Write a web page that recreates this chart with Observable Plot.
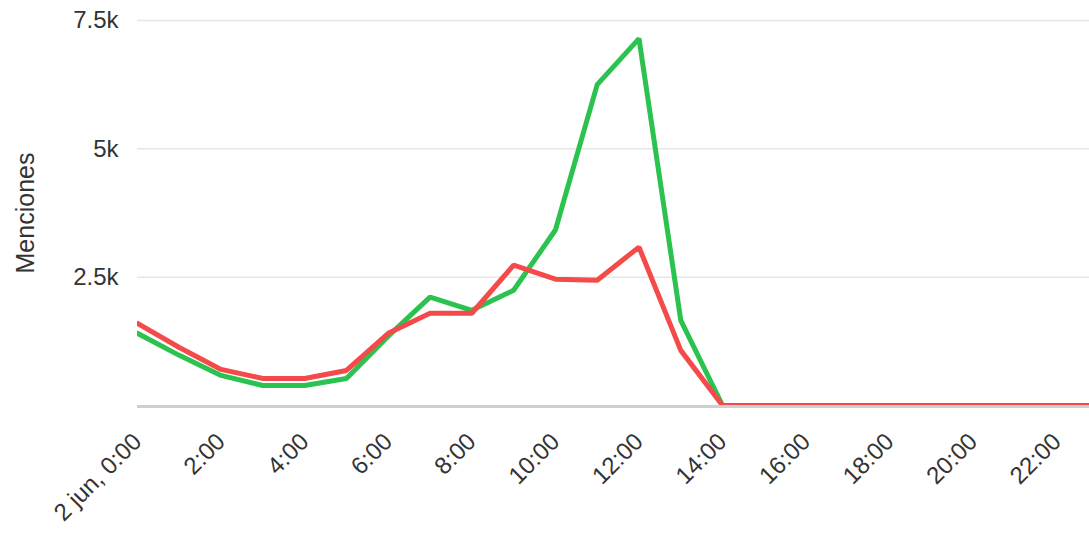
<!DOCTYPE html>
<html>
<head>
<meta charset="utf-8">
<script src="https://cdn.jsdelivr.net/npm/d3@7"></script>
<script src="https://cdn.jsdelivr.net/npm/@observablehq/plot@0.6"></script>
<style>
  html, body { margin: 0; padding: 0; background: #fff; }
  #chart svg { display: block; }
</style>
</head>
<body>
<div id="chart"></div>
<script>
const hours = [0,1,2,3,4,5,6,7,8,9,10,11,12,13,14,15,16,17,18,19,20,21,22,23];
const greenValues = [1406,977,586,390,390,527,1350,2110,1855,2246,3418,6250,7148,1660,0,0,0,0,0,0,0,0,0,0];
const redValues   = [1600,1130,703,527,527,683,1406,1797,1797,2734,2460,2441,3086,1074,0,0,0,0,0,0,0,0,0,0];
const xTicks = [0,2,4,6,8,10,12,14,16,18,20,22];
const yTicks = [2500,5000,7500];
const seriesNames = ["Verde","Rojo"];

const rows = [];
hours.forEach((h,i) => {
  rows.push({hour: h, value: greenValues[i], serie: seriesNames[0]});
});
hours.forEach((h,i) => {
  rows.push({hour: h, value: redValues[i], serie: seriesNames[1]});
});

const chart = Plot.plot({
  width: 1089,
  height: 540,
  marginLeft: 137,
  marginRight: 0,
  marginTop: 20,
  marginBottom: 135,
  style: {fontFamily: "'Liberation Sans', Arial, sans-serif", fontSize: "24px", color: "#333", background: "#fff"},
  x: {domain: [0, 22.78], type: "linear"},
  y: {domain: [0, 7500]},
  color: {domain: seriesNames, range: ["#2bc24f", "#f44a4a"]},
  marks: [
    Plot.gridY(yTicks, {stroke: "#e6e6e6", strokeOpacity: 1, strokeWidth: 1.5}),
    Plot.ruleY([0], {stroke: "#cfcfcf", strokeWidth: 3, dy: 1}),
    Plot.axisY({ticks: yTicks, tickSize: 0, tickPadding: 19, tickFormat: d => (d/1000) + "k", label: null, fontSize: 24}),
    Plot.text(["Menciones"], {frameAnchor: "left", textAnchor: "middle", dx: -112, rotate: -90, fontSize: 25, fill: "#333"}),
    Plot.axisX({ticks: xTicks, tickSize: 0, tickRotate: -45, tickPadding: 32,
      tickFormat: d => d === 0 ? "2 jun, 0:00" : d + ":00", label: null, fontSize: 24}),
    Plot.line(rows, {x: "hour", y: "value", z: "serie", stroke: "serie", strokeWidth: 5, clip: true, strokeLinejoin: "miter"})
  ]
});
document.getElementById("chart").appendChild(chart);
</script>
</body>
</html>
